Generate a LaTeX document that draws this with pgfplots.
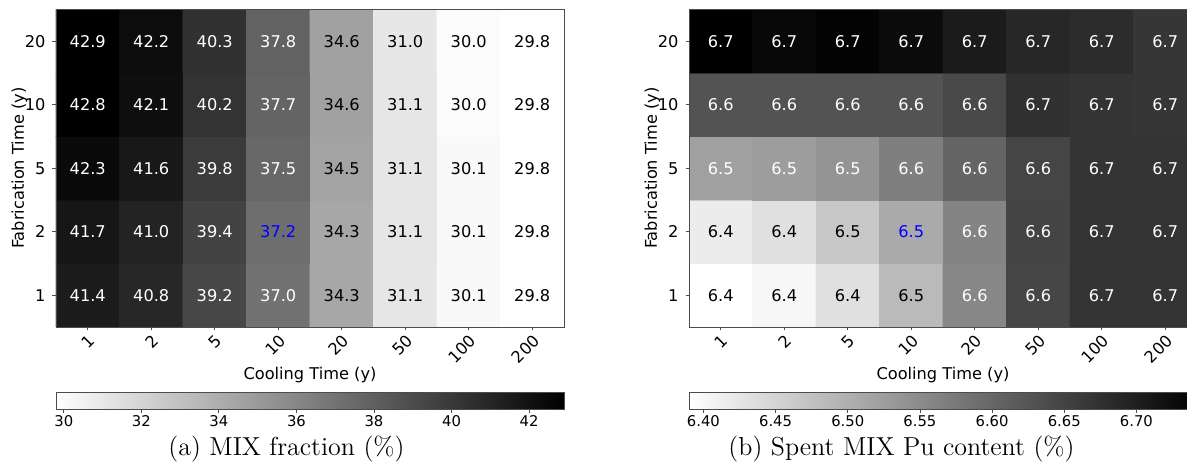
\documentclass[border=0pt]{standalone}
\usepackage{fontspec}
\usepackage{pgfplots}
\pgfplotsset{compat=1.18}
\usetikzlibrary{calc}
\newfontfamily\dejavu{DejaVu Sans}
\pgfplotsset{/pgf/number format/assume math mode=true}
\definecolor{framegray}{gray}{0.3}
\definecolor{pureblue}{rgb}{0,0,1}
\newcommand{\lblfont}{\dejavu\fontsize{8.1}{9.5}\selectfont}
\newcommand{\cbfont}{\dejavu\fontsize{7.4}{8.5}\selectfont}

\pgfplotsset{
  heat/.style={
    scale only axis, width=254pt, height=158.75pt,
    xmin=-0.5, xmax=7.5, ymin=-0.5, ymax=4.5,
    enlargelimits=false,
    xtick={0,...,7}, xticklabels={1,2,5,10,20,50,100,200},
    ytick={0,...,4}, yticklabels={1,2,5,10,20},
    tick pos=left,
    tick align=outside, major tick length=1.75pt,
    tick style={framegray, line width=0.4pt},
    axis line style={framegray, line width=0.4pt},
    ticklabel style={font=\lblfont},
    xticklabel style={rotate=45, anchor=north east, inner sep=1pt},
    label style={font=\lblfont},
    xlabel={Cooling Time (y)}, ylabel={Fabrication Time (y)},
    xlabel style={at={(axis description cs:0.5,0)}, anchor=center, yshift=-24pt},
    ylabel style={at={(axis description cs:-0.072,0.5)}, anchor=center},
    colormap={grayr}{gray=(1) gray=(0)},
    colorbar horizontal,
    axis on top,
  },
  cbar/.style={
    at={($(parent axis.south west)+(0,-24pt)$)}, anchor=north west,
    scale only axis, width=254pt, height=8.5pt,
    tick align=outside, major tick length=1.75pt,
    xtick pos=left,
    tick style={framegray, line width=0.4pt},
    axis line style={framegray, line width=0.4pt},
    xticklabel style={font=\cbfont, inner sep=1.5pt},
  },
  lbl/.style={draw=none, mark=none, nodes near coords, point meta=explicit symbolic,
    nodes near coords style={font=\lblfont, text=#1, anchor=center}},
}

\begin{document}
\begin{tikzpicture}
% ---------------- (a) MIX fraction ----------------
\begin{axis}[heat, at={(28pt,69pt)}, anchor=south west,
  point meta min=29.8, point meta max=42.9,
  colorbar style={cbar, xtick={30,32,...,42}}]
\addplot[matrix plot*, mesh/cols=8, mesh/rows=5, point meta=explicit] table[meta=c] {
x y c
0 0 41.4
1 0 40.8
2 0 39.2
3 0 37.0
4 0 34.3
5 0 31.1
6 0 30.1
7 0 29.8
0 1 41.7
1 1 41.0
2 1 39.4
3 1 37.2
4 1 34.3
5 1 31.1
6 1 30.1
7 1 29.8
0 2 42.3
1 2 41.6
2 2 39.8
3 2 37.5
4 2 34.5
5 2 31.1
6 2 30.1
7 2 29.8
0 3 42.8
1 3 42.1
2 3 40.2
3 3 37.7
4 3 34.6
5 3 31.1
6 3 30.0
7 3 29.8
0 4 42.9
1 4 42.2
2 4 40.3
3 4 37.8
4 4 34.6
5 4 31.0
6 4 30.0
7 4 29.8
};
\addplot[lbl=white] coordinates {
(0,0)[41.4] (1,0)[40.8] (2,0)[39.2] (3,0)[37.0]
(0,1)[41.7] (1,1)[41.0] (2,1)[39.4]
(0,2)[42.3] (1,2)[41.6] (2,2)[39.8] (3,2)[37.5]
(0,3)[42.8] (1,3)[42.1] (2,3)[40.2] (3,3)[37.7]
(0,4)[42.9] (1,4)[42.2] (2,4)[40.3] (3,4)[37.8]
};
\addplot[lbl=black] coordinates {
(4,0)[34.3] (5,0)[31.1] (6,0)[30.1] (7,0)[29.8]
(4,1)[34.3] (5,1)[31.1] (6,1)[30.1] (7,1)[29.8]
(4,2)[34.5] (5,2)[31.1] (6,2)[30.1] (7,2)[29.8]
(4,3)[34.6] (5,3)[31.1] (6,3)[30.0] (7,3)[29.8]
(4,4)[34.6] (5,4)[31.0] (6,4)[30.0] (7,4)[29.8]
};
\addplot[lbl=pureblue] coordinates {(3,1)[37.2]};
\end{axis}

% ---------------- (b) Spent MIX Pu content ----------------
\begin{axis}[heat, at={(344.5pt,69pt)}, anchor=south west,
  point meta min=6.39, point meta max=6.742,
  colorbar style={cbar, xtick={6.40,6.45,6.50,6.55,6.60,6.65,6.70},
    xticklabel={\pgfmathprintnumber[fixed,fixed zerofill,precision=2]{\tick}}}]
\addplot[matrix plot*, mesh/cols=8, mesh/rows=5, point meta=explicit] table[meta=c] {
x y c
0 0 6.390
1 0 6.401
2 0 6.432
3 0 6.484
4 0 6.554
5 0 6.643
6 0 6.668
7 0 6.668
0 1 6.416
1 1 6.432
2 1 6.466
3 1 6.507
4 1 6.559
5 1 6.647
6 1 6.668
7 1 6.668
0 2 6.520
1 2 6.524
2 2 6.536
3 2 6.566
4 2 6.601
5 2 6.645
6 2 6.668
7 2 6.668
0 3 6.626
1 3 6.626
2 3 6.626
3 3 6.626
4 3 6.640
5 3 6.672
6 3 6.668
7 3 6.666
0 4 6.742
1 4 6.728
2 4 6.735
3 4 6.724
4 4 6.703
5 4 6.686
6 4 6.679
7 4 6.665
};
\addplot[lbl=white] coordinates {
(4,0)[6.6] (5,0)[6.6] (6,0)[6.7] (7,0)[6.7]
(4,1)[6.6] (5,1)[6.6] (6,1)[6.7] (7,1)[6.7]
(0,2)[6.5] (1,2)[6.5] (2,2)[6.5] (3,2)[6.6] (4,2)[6.6] (5,2)[6.6] (6,2)[6.7] (7,2)[6.7]
(0,3)[6.6] (1,3)[6.6] (2,3)[6.6] (3,3)[6.6] (4,3)[6.6] (5,3)[6.7] (6,3)[6.7] (7,3)[6.7]
(0,4)[6.7] (1,4)[6.7] (2,4)[6.7] (3,4)[6.7] (4,4)[6.7] (5,4)[6.7] (6,4)[6.7] (7,4)[6.7]
};
\addplot[lbl=black] coordinates {
(0,0)[6.4] (1,0)[6.4] (2,0)[6.4] (3,0)[6.5]
(0,1)[6.4] (1,1)[6.4] (2,1)[6.5]
};
\addplot[lbl=pureblue] coordinates {(3,1)[6.5]};
\end{axis}

\node[font=\fontsize{13}{15}\selectfont] at (143.25pt,8pt) {(a) MIX fraction (\%)};
\node[font=\fontsize{13}{15}\selectfont] at (450.75pt,8pt) {(b) Spent MIX Pu content (\%)};

\pgfresetboundingbox
\useasboundingbox (0,0) rectangle (593.5pt,232.5pt);
\end{tikzpicture}
\end{document}
